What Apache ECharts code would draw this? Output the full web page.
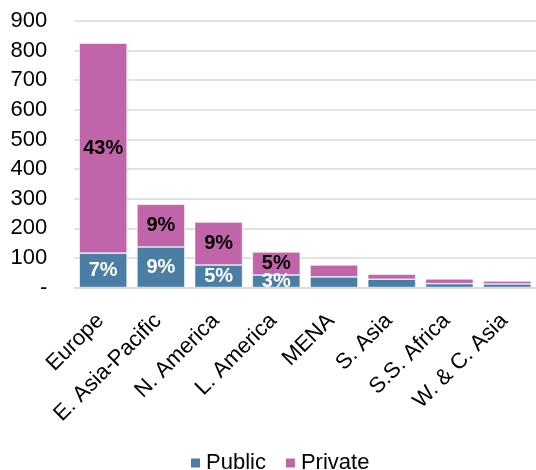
<!DOCTYPE html>
<html>
<head>
<meta charset="utf-8">
<script src="https://cdn.jsdelivr.net/npm/echarts@6/dist/echarts.min.js"></script>
<style>
  html, body { margin: 0; padding: 0; background: #fff; }
  #chart { width: 536px; height: 470px; }
</style>
</head>
<body>
<div id="chart"></div>
<script>
// Regions, ordered by total
const regions = ['Europe', 'E. Asia-Pacific', 'N. America', 'L. America', 'MENA', 'S. Asia', 'S.S. Africa', 'W. & C. Asia'];
// Stacked amounts per region
const publicValues = [116, 137, 76, 42, 36, 28, 13, 12];
const privateValues = [709, 144, 145, 78, 40, 17, 16, 10];
// Share labels shown inside the segments
const publicShares = ['7%', '9%', '5%', '3%', '', '', '', ''];
const privateShares = ['43%', '9%', '9%', '5%', '', '', '', ''];
// Value axis ticks
const yMin = 0, yMax = 900, yStep = 100;

const FONT = 'Liberation Sans, Arial, sans-serif';
const chart = echarts.init(document.getElementById('chart'));

chart.setOption({
  animation: false,
  grid: { left: 74.3, right: -5.5, top: 21, bottom: 182.5 },
  legend: {
    bottom: -9,
    left: 184,
    icon: 'rect',
    itemWidth: 11,
    itemHeight: 11,
    itemGap: 18,
    textStyle: { fontFamily: FONT, fontSize: 22, color: '#000' },
    data: ['Public', 'Private']
  },
  xAxis: {
    type: 'category',
    data: regions,
    axisTick: { show: false },
    axisLine: { lineStyle: { color: '#d9d9d9', width: 1.5 } },
    axisLabel: {
      interval: 0,
      rotate: 45,
      margin: 27,
      padding: [0, 4, 0, 0],
      fontFamily: FONT,
      fontSize: 22,
      color: '#000'
    }
  },
  yAxis: {
    type: 'value',
    min: yMin,
    max: yMax,
    interval: yStep,
    axisLine: { show: false },
    axisTick: { show: false },
    splitLine: { lineStyle: { color: '#d9d9d9', width: 1.5 } },
    axisLabel: {
      margin: 27,
      fontFamily: FONT,
      fontSize: 22,
      color: '#000',
      formatter: v => (v === 0 ? '-' : String(v))
    }
  },
  series: [
    {
      name: 'Public',
      type: 'bar',
      stack: 'total',
      barCategoryGap: '17%',
      data: publicValues,
      itemStyle: { color: '#4a7ea5', borderColor: '#ffffff', borderWidth: 0.6 },
      label: {
        show: true,
        position: 'inside',
        fontFamily: FONT,
        fontSize: 20,
        fontWeight: 'bold',
        color: '#fff',
        formatter: p => publicShares[p.dataIndex]
      }
    },
    {
      name: 'Private',
      type: 'bar',
      stack: 'total',
      barCategoryGap: '17%',
      data: privateValues,
      itemStyle: { color: '#c065a9', borderColor: '#ffffff', borderWidth: 0.6 },
      label: {
        show: true,
        position: 'inside',
        fontFamily: FONT,
        fontSize: 20,
        fontWeight: 'bold',
        color: '#000',
        formatter: p => privateShares[p.dataIndex]
      }
    }
  ]
});
</script>
</body>
</html>
